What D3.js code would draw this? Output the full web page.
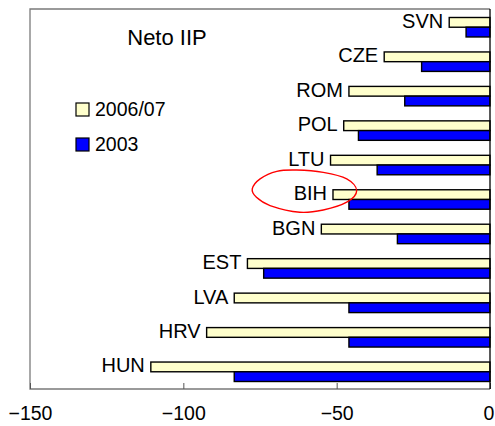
<!DOCTYPE html>
<html>
<head>
<meta charset="utf-8">
<script src="https://cdn.jsdelivr.net/npm/d3@7"></script>
<style>
  body { margin: 0; background: #fff; }
  text { font-family: "Liberation Sans", Arial, sans-serif; fill: #000; }
</style>
</head>
<body>
<div class="chart"></div>
<script>
var svgWidth = 495;
var svgHeight = 426;

// plot box
var plot = { left: 30, right: 490, top: 9, bottom: 389 };

// data, top to bottom
var countries = ["SVN", "CZE", "ROM", "POL", "LTU", "BIH", "BGN", "EST", "LVA", "HRV", "HUN"];
var iip0607 = [-13.3, -34.5, -46, -47.7, -52, -51.2, -55, -79.1, -83.4, -92.4, -110.6];
var iip2003 = [-7.8, -22.3, -27.8, -42.9, -36.8, -46, -30.2, -73.8, -46, -46, -83.4];
var seriesNames = ["2006/07", "2003"];
var seriesColors = ["#FFFFCC", "#0000FF"];
var xTicks = [-150, -100, -50, 0];

// hand drawn ring around BIH, in units of its radii
var ring = [[-1.0, -0.11], [-0.85, -0.59], [-0.53, -0.95], [-0.15, -1.01], [0.36, -0.9],
  [0.81, -0.59], [1.0, -0.03], [0.81, 0.52], [0.36, 0.89], [-0.09, 1.0],
  [-0.66, 0.68], [-0.92, 0.29]];

var svg = d3.select(".chart")
  .append("svg")
  .attr("width", svgWidth)
  .attr("height", svgHeight);

var xScale = d3.scaleLinear()
  .domain([-150, 0])
  .range([plot.left, plot.right]);

var yScale = d3.scaleBand()
  .domain(countries)
  .range([plot.top + 1, plot.bottom]);

var ySeries = d3.scaleBand()
  .domain(seriesNames)
  .range([0, yScale.bandwidth()])
  .paddingOuter(0.77);

var rows = countries.map(function(c, i) {
  return { country: c, values: [iip0607[i], iip2003[i]] };
});

// plot border (grey)
svg.append("path")
  .attr("d", `M${plot.right},${plot.top}H${plot.left}V${plot.bottom}H${plot.right}`)
  .attr("fill", "none")
  .attr("stroke", "#7a7a7a")
  .attr("stroke-width", 1.3);

// bottom axis, ticks point inward
var bottomAxis = d3.axisBottom(xScale)
  .tickValues(xTicks)
  .tickSize(-6)
  .tickPadding(17)
  .tickFormat(d3.format("d"));

var xAxis = svg.append("g")
  .attr("transform", `translate(0, ${plot.bottom})`)
  .call(bottomAxis);

xAxis.select(".domain").remove();
xAxis.selectAll("line").attr("stroke", "#555");
xAxis.selectAll("text")
  .style("font-family", "'Liberation Sans', Arial, sans-serif")
  .style("font-size", "19.5px")
  .attr("fill", "#000")
  .attr("dx", d => d === 0 ? -1.5 : 0);

// bars
var groups = svg.selectAll(".row")
  .data(rows)
  .enter()
  .append("g")
  .attr("class", "row")
  .attr("transform", d => `translate(0, ${yScale(d.country)})`);

groups.selectAll("rect")
  .data(d => d.values.map((v, j) => ({ series: seriesNames[j], value: v, color: seriesColors[j] })))
  .enter()
  .append("rect")
  .attr("x", d => xScale(d.value))
  .attr("y", d => ySeries(d.series))
  .attr("width", d => xScale(0) - xScale(d.value))
  .attr("height", ySeries.bandwidth())
  .attr("fill", d => d.color)
  .attr("stroke", "#000")
  .attr("stroke-width", 1.4);

// country labels at the start of the 2006/07 bar
groups.append("text")
  .attr("x", d => xScale(d.values[0]) - 6)
  .attr("y", ySeries("2006/07") + ySeries.bandwidth() / 2 + 5.5)
  .attr("text-anchor", "end")
  .style("font-size", "20px")
  .text(d => d.country);

// zero line (black)
svg.append("line")
  .attr("x1", xScale(0))
  .attr("x2", xScale(0))
  .attr("y1", plot.top)
  .attr("y2", plot.bottom)
  .attr("stroke", "#000")
  .attr("stroke-width", 1.3);

// title
svg.append("text")
  .attr("x", 167)
  .attr("y", 45)
  .attr("text-anchor", "middle")
  .style("font-size", "22px")
  .text("Neto IIP");

// legend
var legend = svg.append("g")
  .attr("transform", "translate(76, 103)");

var legendItems = legend.selectAll("g")
  .data(seriesNames)
  .enter()
  .append("g")
  .attr("transform", (d, i) => `translate(0, ${i * 35})`);

legendItems.append("rect")
  .attr("width", 13)
  .attr("height", 13)
  .attr("fill", (d, i) => seriesColors[i])
  .attr("stroke", "#000")
  .attr("stroke-width", 1.2);

legendItems.append("text")
  .attr("x", 19)
  .attr("y", 12.5)
  .style("font-size", "19.5px")
  .text(d => d);

// red ring around BIH
var cx = xScale(-60.5);
var cy = yScale("BIH") + ySeries("2006/07") + 1.5;
var rx = 52.2, ry = 21;

svg.append("path")
  .attr("d", d3.line()
    .x(p => cx + p[0] * rx)
    .y(p => cy + p[1] * ry)
    .curve(d3.curveCardinalClosed)(ring))
  .attr("fill", "none")
  .attr("stroke", "#FF0000")
  .attr("stroke-width", 1.4);
</script>
</body>
</html>
